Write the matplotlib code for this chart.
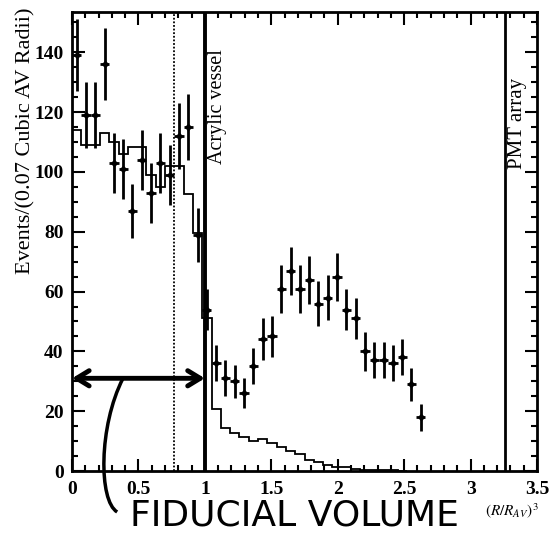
import numpy as np
import matplotlib.pyplot as plt
from matplotlib.ticker import MultipleLocator
from matplotlib.path import Path
from matplotlib.patches import PathPatch

#DATA
bin_width = 0.07
data_x = [0.035, 0.105, 0.175, 0.245, 0.315, 0.385, 0.455, 0.525, 0.595, 0.665,
          0.735, 0.805, 0.875, 0.945, 1.015, 1.085, 1.155, 1.225, 1.295, 1.365,
          1.435, 1.505, 1.575, 1.645, 1.715, 1.785, 1.855, 1.925, 1.995, 2.065,
          2.135, 2.205, 2.275, 2.345, 2.415, 2.485, 2.555, 2.625]
data_y = [139, 119, 119, 136, 103, 101, 87, 104, 93, 103,
          99, 112, 115, 79, 54, 36, 31, 30, 26, 35,
          44, 45, 61, 67, 61, 64, 56, 58, 65, 54,
          51, 40, 37, 37, 36, 38, 29, 18]
data_err = [12, 11, 11, 12, 10, 10, 9, 10, 10, 10,
            10, 11, 11, 9, 7, 6, 6, 5.5, 5, 6,
            7, 7, 8, 8, 8, 8, 7.5, 7.5, 8, 7,
            7, 6.5, 6, 6, 6, 6, 5.5, 4.5]

mc_edges = [0.0, 0.07, 0.14, 0.21, 0.28, 0.35, 0.42, 0.49, 0.56, 0.63, 0.70,
            0.77, 0.84, 0.91, 0.98, 1.05, 1.12, 1.19, 1.26, 1.33, 1.40, 1.47,
            1.54, 1.61, 1.68, 1.75, 1.82, 1.89, 1.96, 2.03, 2.10, 2.17, 2.24,
            2.31, 2.38, 2.45, 2.52]
mc_vals = [114, 109, 109, 113, 110, 106, 108.5, 108.5, 99, 95, 102,
           102, 92.5, 79.5, 51, 20.7, 14.3, 12.8, 11.3, 10.1, 10.7,
           9.5, 7.9, 6.8, 5.7, 3.7, 2.9, 2.0, 1.3, 1.3, 0.8, 0.5,
           0.5, 0.3, 0.2, 0.1]

xticks = [0, 0.5, 1, 1.5, 2, 2.5, 3, 3.5]
xticklabels = ['0', '0.5', '1', '1.5', '2', '2.5', '3', '3.5']

fid_cut = 0.77
av_radius = 1.0
pmt_radius = 3.26

#PLOT
serif = ['Liberation Serif', 'DejaVu Serif']
fig = plt.figure(figsize=(5.55, 5.45), dpi=100)
ax = fig.add_axes([72/555, 1-471/545, (537-72)/555, (471-12)/545])

ax.stairs(mc_vals, mc_edges, color='black', lw=1.3)
ax.errorbar(data_x, data_y, yerr=data_err, xerr=bin_width/2, fmt='D', ms=3,
            color='black', ecolor='black', elinewidth=2, capsize=0)

ax.axvline(fid_cut, color='black', lw=1.3, ls=(0, (1, 1)))
ax.axvline(av_radius, color='black', lw=2.8)
ax.axvline(pmt_radius, color='black', lw=2)

ax.text(1.02, 141, 'Acrylic vessel', rotation=90, va='top', ha='left',
        family=serif, fontsize=14.5)
ax.text(3.28, 131.5, 'PMT array', rotation=90, va='top', ha='left',
        family=serif, fontsize=15)

ax.set_xlim(0, 3.5)
ax.set_ylim(0, 153.5)
ax.set_xticks(xticks)
ax.set_xticklabels(xticklabels)
ax.xaxis.set_minor_locator(MultipleLocator(0.1))
ax.yaxis.set_major_locator(MultipleLocator(20))
ax.yaxis.set_minor_locator(MultipleLocator(5))
ax.tick_params(which='both', direction='in', top=True, right=True, width=1.5)
ax.tick_params(which='major', length=9, labelsize=14)
ax.tick_params(axis='x', which='major', pad=7)
ax.tick_params(axis='y', which='major', pad=6)
ax.tick_params(which='minor', length=4)
for lab in ax.get_xticklabels() + ax.get_yticklabels():
    lab.set_family(serif)
    lab.set_fontweight('bold')
for s in ax.spines.values():
    s.set_linewidth(2)

fig.text(26/555, 1-141/545, 'Events/(0.07 Cubic AV Radii)', rotation=90,
         ha='center', va='center', family=serif, fontsize=16)
fig.text(512/555, 1-511/545, r'$(R/R_{AV})^3$', ha='center', va='center',
         fontsize=11, math_fontfamily='stix')

#handwritten annotation
ax.annotate('', xy=(0.0, 31), xytext=(1.0, 31),
            arrowprops=dict(arrowstyle='<->,head_length=0.9,head_width=0.55',
                            lw=3.5, color='black', shrinkA=0, shrinkB=0),
            annotation_clip=False)
curve = Path([(0.384, 31), (0.2, 15), (0.2, -10), (0.34, -13.7)],
             [Path.MOVETO, Path.CURVE4, Path.CURVE4, Path.CURVE4])
ax.add_patch(PathPatch(curve, fc='none', ec='black', lw=2.5, clip_on=False))
fig.text(130/555, 1-515/545, 'FIDUCIAL VOLUME', ha='left', va='center',
         family='DejaVu Sans', fontsize=26)

fig.savefig('out.png', dpi=100)
